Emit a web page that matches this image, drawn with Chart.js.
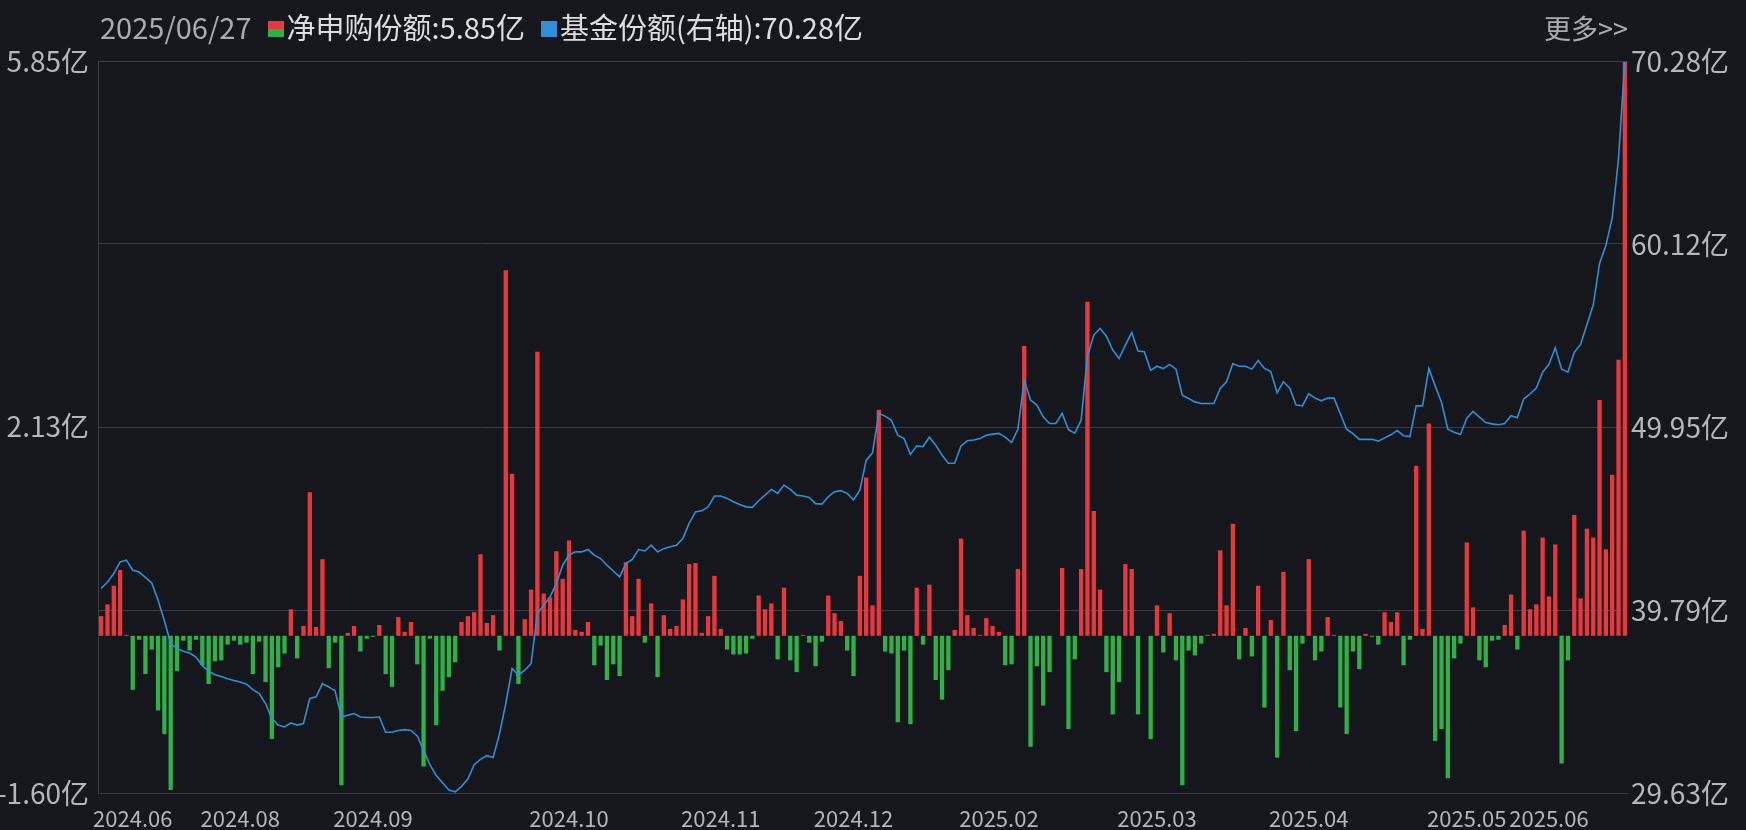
<!DOCTYPE html>
<html><head><meta charset="utf-8">
<script src="https://cdn.jsdelivr.net/npm/chart.js@4/dist/chart.umd.min.js"></script>
<style>
html,body{margin:0;padding:0;background:#15171c;overflow:hidden}
#wrap{position:relative;width:1746px;height:830px}
#hdr{position:absolute;top:5px;left:100px;font-family:"Noto Sans CJK SC","Noto Sans",sans-serif;font-size:29px;color:#a9abb0;white-space:nowrap}
#hdr span.sq{display:inline-block;width:16px;height:16px;vertical-align:middle;margin:0 3px 5px 16px}
#hdr span.t{color:#dcdde0}
#more{position:absolute;top:8px;right:118px;font-family:"Noto Sans CJK SC",sans-serif;font-size:27px;color:#a9abb0}
</style></head><body>
<div id="wrap">
<canvas id="c" width="1746" height="830"></canvas>
<div id="hdr">2025/06/27<span class="sq" style="background:linear-gradient(#e8383d 50%,#2fb14a 50%)"></span><span class="t">净申购份额:5.85亿</span><span class="sq" style="background:#2f8fd8"></span><span class="t">基金份额(右轴):70.28亿</span></div>
<div id="more">更多&gt;&gt;</div>
</div>
<script>
const netBars1=[0.2,0.32,0.51,0.67,0.01,-0.55,-0.04,-0.39,-0.14,-0.76,-1.0,-1.57,-0.36,-0.05,-0.15,-0.04,-0.3,-0.49,-0.26,-0.25,-0.09,-0.05,-0.09,-0.07,-0.39,-0.06,-0.47,-1.05,-0.32,-0.18,0.27,-0.23,0.1,1.46,0.09,0.78];
const netBars2=[-0.33,-0.07,-1.52,0.03,0.1,-0.16,-0.03,-0.01,0.11,-0.39,-0.52,0.19,0.04,0.14,-0.29,-1.33,-0.03,-0.91,-0.56,-0.42,-0.27,0.14,0.2,0.24,0.83,0.13,0.21,-0.15,3.72,1.65,-0.49,0.17,0.47,2.89,0.43,0.39,0.86];
const netBars3=[0.58,0.97,0.06,0.04,0.14,-0.3,-0.1,-0.45,-0.29,-0.41,0.75,0.2,0.58,-0.07,0.33,-0.42,0.21,0.07,0.1,0.37,0.73,0.74,0.03,0.2,0.61,0.07,-0.14,-0.19,-0.19,-0.18,-0.03,0.41,0.27,0.33,-0.24,0.49,-0.25];
const netBars4=[-0.37,0.01,-0.07,-0.31,-0.06,0.41,0.23,0.15,-0.15,-0.41,0.61,1.61,0.31,2.3,-0.16,-0.18,-0.88,-0.15,-0.9,0.49,-0.09,0.52,-0.45,-0.65,-0.35,0.06,0.99,0.21,0.08,0.01,0.18,0.1,0.04,-0.3,-0.29,0.68,2.95];
const netBars5=[-1.13,-0.31,-0.71,-0.37,0.0,0.69,-0.95,-0.24,0.68,3.4,1.27,0.47,-0.37,-0.8,-0.47,0.73,0.68,-0.8,0.0,-1.05,0.31,-0.17,0.23,-0.25,-1.52,-0.15,-0.2,-0.08,0.01,0.02,0.87,0.31,1.14,-0.24,0.08,-0.21,0.51];
const netBars6=[-0.73,0.16,-1.24,0.65,-0.35,-0.97,-0.08,0.78,-0.25,-0.16,0.19,0.01,-0.73,-1.0,-0.16,-0.34,0.02,-0.01,-0.09,0.24,0.14,0.24,-0.3,-0.04,1.73,0.07,2.16,-1.07,-0.95,-1.45,-0.23,-0.08,0.95,0.29,-0.25,-0.32,-0.05,-0.04];
const netBars7=[0.11,0.42,-0.14,1.07,0.27,0.32,1.0,0.4,0.93,-1.3,-0.25,1.23,0.38,1.09,1.0,2.4,0.88,1.64,2.81,5.85];

const share1=[40.99,41.35,41.82,42.46,42.56,42.0,41.9,41.6,41.3,40.33,39.2,37.93,37.65,37.5,37.4,37.18,36.7,36.4,36.2,36.1,35.98,35.88,35.8,35.67,35.37,35.15,34.6,33.76,33.4,33.3,33.52,33.4,33.49,34.88,34.97,35.7];
const share2=[35.52,35.3,33.85,33.95,34.04,33.85,33.82,33.82,33.85,33.0,33.0,33.1,33.15,33.1,32.8,32.0,31.2,30.6,30.2,29.8,29.7,30.0,30.4,31.2,31.5,31.7,31.6,32.9,34.6,36.54,36.17,36.45,36.82,39.6,40.06,40.52,41.26];
const share3=[42.28,42.84,43.02,43.02,43.15,42.84,42.65,42.28,41.96,41.63,42.37,42.6,43.15,43.07,43.39,43.02,43.2,43.3,43.39,43.76,44.6,45.24,45.3,45.52,46.12,46.12,45.99,45.8,45.65,45.52,45.49,45.86,46.17,46.49,46.27,46.73,46.49];
const share4=[46.17,46.12,46.04,45.7,45.67,46.08,46.36,46.42,46.27,45.9,46.45,48.1,48.52,50.7,50.56,50.33,49.5,49.31,48.43,48.9,48.87,49.39,48.95,48.4,47.94,47.94,48.9,49.19,49.23,49.31,49.5,49.56,49.6,49.39,49.09,49.83,52.56];
const share5=[51.45,51.17,50.52,50.15,50.15,50.72,49.8,49.61,50.33,53.87,55.06,55.43,55.0,54.23,53.76,54.5,55.2,54.18,54.13,53.1,53.33,53.2,53.43,53.17,51.72,51.54,51.35,51.26,51.26,51.26,52.09,52.46,53.48,53.33,53.33,53.17,53.65];
const share6=[53.21,53.04,51.86,52.47,52.11,51.18,51.13,51.8,51.56,51.41,51.56,51.56,50.69,49.83,49.59,49.27,49.27,49.27,49.17,49.35,49.52,49.76,49.47,49.42,51.13,51.13,53.21,52.24,51.33,49.83,49.66,49.54,50.44,50.82,50.5,50.2,50.13,50.08];
const share7=[50.15,50.58,50.47,51.51,51.79,52.12,53.0,53.44,54.36,53.17,53.0,54.1,54.54,55.63,56.73,59.04,60.03,61.56,64.86,70.28];

const tickLabels=['2024.06','2024.08','2024.09','2024.10','2024.11','2024.12','2025.02','2025.03','2025.04','2025.05','2025.06'];
const tickIndex=[5,22,43,74,98,119,142,167,191,216,229];
const leftTicks=[-1.60,2.13,5.85];
const rightTicks=[29.63,39.79,49.95,60.12,70.28];

const netBars=[].concat(netBars1,netBars2,netBars3,netBars4,netBars5,netBars6,netBars7);
const shares=[].concat(share1,share2,share3,share4,share5,share6,share7);
const categories=netBars.map((_,i)=>{const k=tickIndex.indexOf(i);return k>=0?tickLabels[k]:'';});

const RED='#e8383d',GREEN='#2fb14a',BLUE='#2f8fd8',TXT='#b4b6ba',GRID='#3a3d44';
const FAM='"Noto Sans CJK SC","Noto Sans",sans-serif';

const frame={id:'frame',beforeDraw(ch){const c=ch.ctx;c.save();c.fillStyle='#15171c';c.fillRect(0,0,ch.width,ch.height);c.restore();},
 afterDraw(ch){const c=ch.ctx,a=ch.chartArea;c.save();c.strokeStyle='#3c3f46';c.lineWidth=1;c.beginPath();c.moveTo(a.left+0.5,a.bottom);c.lineTo(a.left+0.5,a.top+0.5);c.lineTo(a.right,a.top+0.5);c.stroke();c.restore();}};

new Chart(document.getElementById('c'),{
 data:{labels:categories,datasets:[
  {type:'line',data:shares,yAxisID:'yR',borderColor:BLUE,borderWidth:1.6,pointRadius:0,tension:0,order:0},
  {type:'bar',data:netBars,yAxisID:'yL',backgroundColor:netBars.map(v=>v>=0?RED:GREEN),barPercentage:0.68,categoryPercentage:1,order:1}
 ]},
 options:{responsive:false,animation:false,
  layout:{padding:{top:61,left:0,right:0,bottom:0}},
  plugins:{legend:{display:false},tooltip:{enabled:false}},
  scales:{
   x:{grid:{display:false},border:{display:false},
      ticks:{autoSkip:false,maxRotation:0,color:TXT,font:{family:FAM,size:22},padding:4,callback:(v,i)=>categories[i]},
      afterFit(s){s.height=37;}},
   yL:{position:'left',min:-1.6,max:5.85,grid:{display:false},border:{display:false},
      afterBuildTicks(s){s.ticks=leftTicks.map(v=>({value:v}));},
      ticks:{color:TXT,font:{family:FAM,size:28},padding:1,callback:v=>v.toFixed(2)+'亿'},
      afterFit(s){s.width=98;}},
   yR:{position:'right',min:29.63,max:70.28,border:{display:false},
      grid:{color:GRID,borderDash:[1,3],drawTicks:false},
      afterBuildTicks(s){s.ticks=rightTicks.map(v=>({value:v}));},
      ticks:{color:TXT,font:{family:FAM,size:28},padding:3,callback:v=>v.toFixed(2)+'亿'},
      afterFit(s){s.width=118;}}
  }},
 plugins:[frame]
});
</script>
</body></html>
